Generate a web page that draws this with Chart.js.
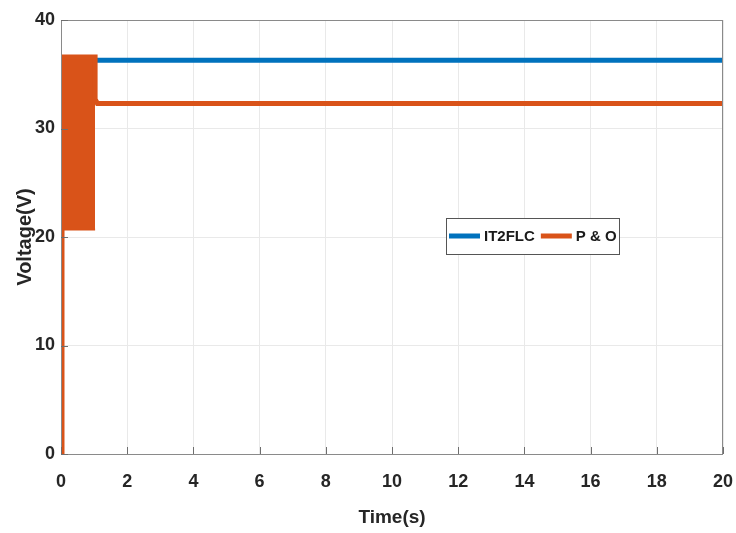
<!DOCTYPE html>
<html><head><meta charset="utf-8">
<script src="https://cdn.jsdelivr.net/npm/chart.js@4.4.1/dist/chart.umd.min.js"></script>
<style>html,body{margin:0;padding:0;background:#fff}#wrap{width:736px;height:533px}</style>
</head><body><div id="wrap"><canvas id="c" width="736" height="533"></canvas></div>
<script>
// ---- data ----
const xTickValues = [0, 2, 4, 6, 8, 10, 12, 14, 16, 18, 20];
const yTickValues = [0, 10, 20, 30, 40];
const it2Time = [0, 0.04, 0.08, 20];
const it2Volt = [8.5, 36.4, 36.3, 36.3];
const poTime = [0, 0.03, 1.03, 1.03, 1.1, 20];
const poVolt = [0, 36.6, 36.6, 32.7, 32.3, 32.3];
const bandTime = [0.03, 1.03];
const bandHigh = [36.6, 36.6];
const bandLow = [20.7, 20.7];
const seriesLabels = ['IT2FLC', 'P & O'];

const BLUE = '#0072BD', ORANGE = '#D95319';
const pts = (xs, ys) => xs.map((x, i) => ({x, y: ys[i]}));
const FONT = 'Liberation Sans, Arial, sans-serif';

const boxPlugin = {
  id: 'boxPlugin',
  afterDatasetsDraw(chart) {
    const {ctx, chartArea: a, scales} = chart;
    ctx.save();
    ctx.strokeStyle = '#8a8a8a';
    ctx.lineWidth = 1;
    ctx.strokeRect(a.left + 0.5, a.top + 0.5, a.right - a.left - 1, a.bottom - a.top);
    // inner ticks
    ctx.strokeStyle = '#6e6e6e';
    ctx.beginPath();
    xTickValues.forEach(v => {
      const px = Math.round(scales.x.getPixelForValue(v)) + 0.5;
      ctx.moveTo(px, a.bottom); ctx.lineTo(px, a.bottom - 7);
    });
    yTickValues.forEach(v => {
      const py = Math.round(scales.y.getPixelForValue(v)) + 0.5;
      ctx.moveTo(a.left, py); ctx.lineTo(a.left + 7, py);
    });
    ctx.stroke();
    // legend
    const lx = 446, ly = 218, lw = 173, lh = 36;
    ctx.fillStyle = '#fff';
    ctx.fillRect(lx, ly, lw, lh);
    ctx.strokeStyle = '#555';
    ctx.strokeRect(lx + 0.5, ly + 0.5, lw, lh);
    const items = chart.data.datasets.filter(d => d.legendOrder !== undefined)
      .sort((p, q) => p.legendOrder - q.legendOrder);
    let cx = lx + 3;
    const cy = ly + lh / 2;
    ctx.font = 'bold 15px ' + FONT;
    ctx.textBaseline = 'middle';
    items.forEach(d => {
      ctx.strokeStyle = d.borderColor;
      ctx.lineWidth = 5;
      ctx.beginPath(); ctx.moveTo(cx, cy); ctx.lineTo(cx + 31, cy); ctx.stroke();
      ctx.fillStyle = '#1a1a1a';
      ctx.fillText(d.label, cx + 35, cy + 1);
      cx += 35 + ctx.measureText(d.label).width + 6;
    });
    ctx.restore();
  }
};

new Chart(document.getElementById('c'), {
  type: 'line',
  data: {
    datasets: [
      {label: seriesLabels[1], legendOrder: 1, data: pts(poTime, poVolt), borderColor: ORANGE, borderWidth: 5, pointRadius: 0, fill: false, order: 1, tension: 0},
      {label: 'band-high', data: pts(bandTime, bandHigh), borderColor: ORANGE, backgroundColor: ORANGE, borderWidth: 2, pointRadius: 0, fill: '+1', order: 1},
      {label: 'band-low', data: pts(bandTime, bandLow), borderColor: ORANGE, borderWidth: 2, pointRadius: 0, fill: false, order: 1},
      {label: seriesLabels[0], legendOrder: 0, data: pts(it2Time, it2Volt), borderColor: BLUE, borderWidth: 5, pointRadius: 0, fill: false, order: 2, tension: 0}
    ]
  },
  options: {
    responsive: false,
    animation: false,
    devicePixelRatio: 1,
    layout: {padding: {top: 20, right: 13, left: 0, bottom: 0}},
    plugins: {legend: {display: false}, tooltip: {enabled: false}},
    scales: {
      x: {
        type: 'linear', min: 0, max: 20,
        afterBuildTicks: s => { s.ticks = xTickValues.map(v => ({value: v})); },
        afterFit: s => { s.height = 79; s.paddingLeft = 0; s.paddingRight = 0; },
        ticks: {font: {family: FONT, size: 18, weight: 'bold'}, color: '#262626', padding: 17, maxRotation: 0},
        grid: {color: '#e9e9e9', drawTicks: false},
        border: {display: false},
        title: {display: true, text: 'Time(s)', font: {family: FONT, size: 19, weight: 'bold'}, color: '#262626', padding: {top: 0, bottom: 4}}
      },
      y: {
        type: 'linear', min: 0, max: 40,
        afterBuildTicks: s => { s.ticks = yTickValues.map(v => ({value: v})); },
        afterFit: s => { s.width = 61; s.paddingTop = 0; s.paddingBottom = 0; },
        ticks: {font: {family: FONT, size: 18, weight: 'bold'}, color: '#262626', padding: 6},
        grid: {color: '#e9e9e9', drawTicks: false},
        border: {display: false},
        title: {display: true, text: 'Voltage(V)', font: {family: FONT, size: 20, weight: 'bold'}, color: '#262626', padding: {top: 13, bottom: 0}}
      }
    }
  },
  plugins: [boxPlugin]
});
</script></body></html>
